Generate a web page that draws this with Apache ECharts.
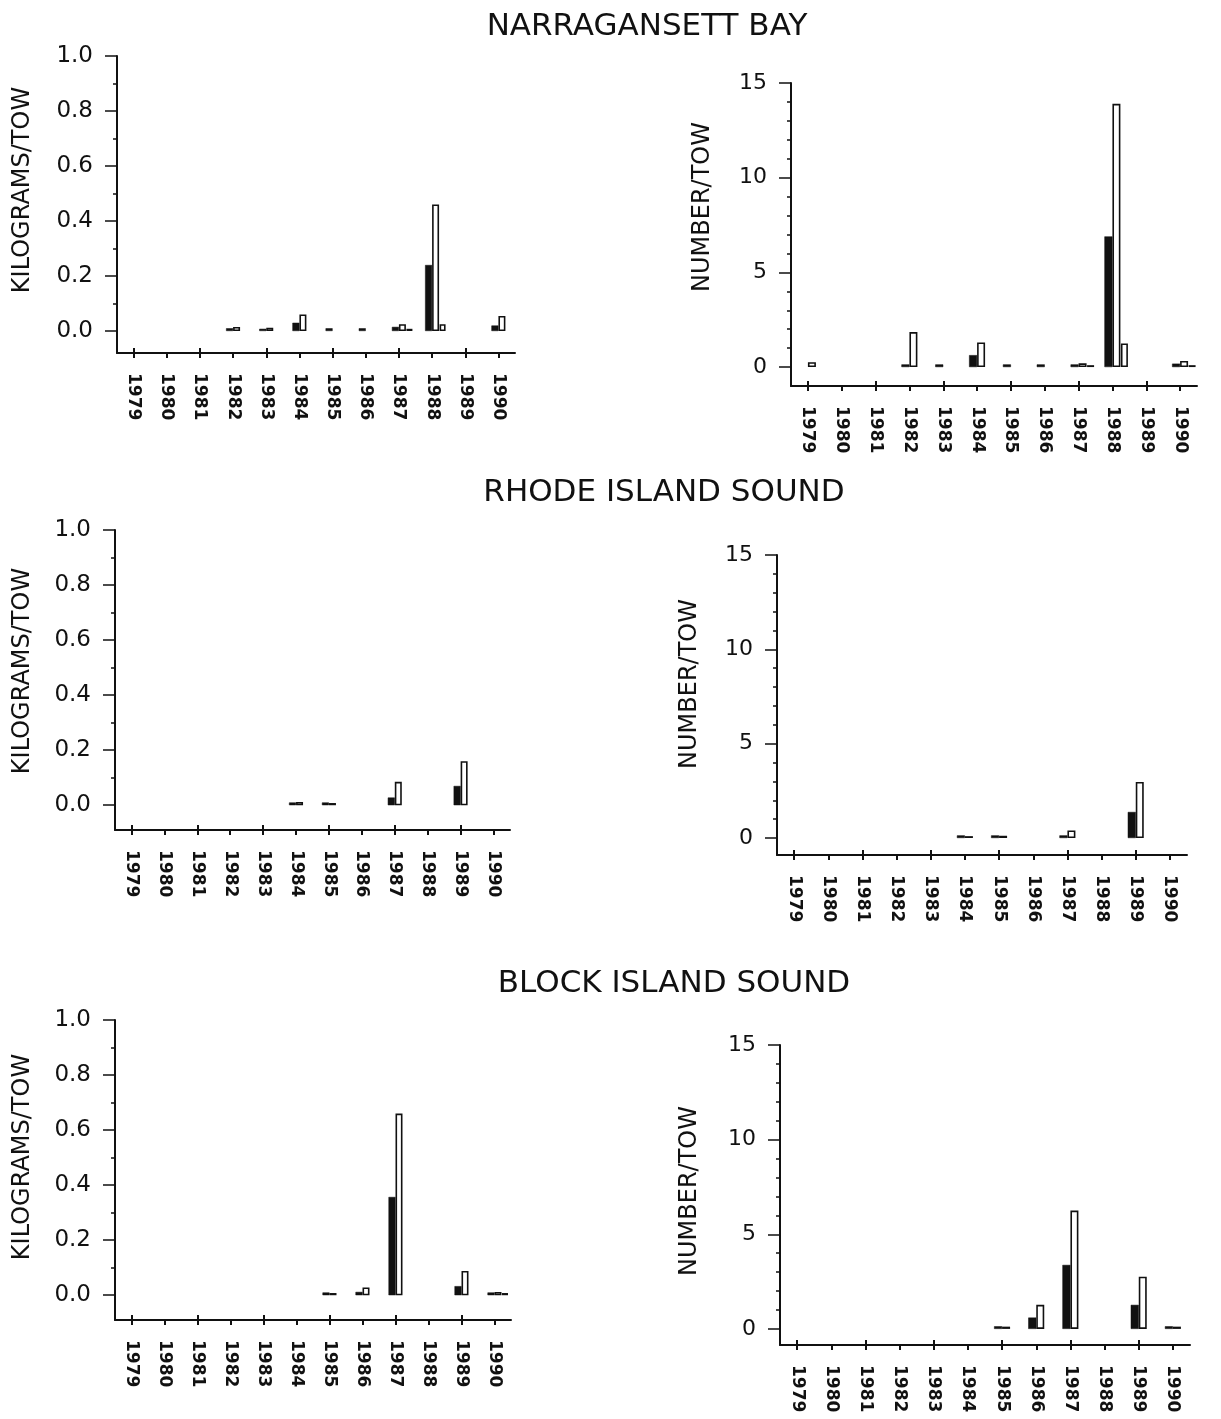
<!DOCTYPE html>
<html>
<head>
<meta charset="utf-8">
<script src="https://cdn.jsdelivr.net/npm/echarts@6/dist/echarts.min.js"></script>
<style>
html,body{margin:0;padding:0;background:#fff;}
#chart{width:1221px;height:1419px;}
</style>
</head>
<body>
<div id="chart"></div>
<script>
// ---------- data ----------
const years = ['1979','1980','1981','1982','1983','1984','1985','1986','1987','1988','1989','1990'];
const kgTicks = [0, 0.2, 0.4, 0.6, 0.8, 1.0];
const kgMinor = [0.1, 0.3, 0.5, 0.7, 0.9];
const numTicks = [0, 5, 10, 15];
const numMinor = [1, 2, 3, 4, 6, 7, 8, 9, 11, 12, 13, 14];

// Narragansett Bay
const nbKgBlack  = [null, null, null, 0.01, 0.008, 0.03, 0.01, 0.01, 0.015, 0.24, null, 0.02];
const nbKgWhite  = [null, null, null, 0.015, 0.012, 0.06, null, null, 0.025, 0.46, null, 0.055];
const nbKgThird  = [null, null, null, null, null, null, null, null, 0.008, 0.025, null, null];
const nbNumBlack = [null, null, null, 0.14, 0.14, 0.63, 0.14, 0.14, 0.14, 6.9, null, 0.18];
const nbNumWhite = [0.26, null, null, 1.85, null, 1.3, null, null, 0.2, 13.9, null, 0.32];
const nbNumThird = [null, null, null, null, null, null, null, null, 0.1, 1.25, null, 0.1];
// Rhode Island Sound
const riKgBlack  = [null, null, null, null, null, 0.01, 0.01, null, 0.028, null, 0.07, null];
const riKgWhite  = [null, null, null, null, null, 0.012, 0.008, null, 0.085, null, 0.16, null];
const riKgThird  = [null, null, null, null, null, null, null, null, null, null, null, null];
const riNumBlack = [null, null, null, null, null, 0.14, 0.14, null, 0.14, null, 1.38, null];
const riNumWhite = [null, null, null, null, null, 0.1, 0.12, null, 0.4, null, 2.97, null];
const riNumThird = [null, null, null, null, null, null, null, null, null, null, null, null];
// Block Island Sound
const biKgBlack  = [null, null, null, null, null, null, 0.01, 0.012, 0.357, null, 0.033, 0.01];
const biKgWhite  = [null, null, null, null, null, null, 0.008, 0.028, 0.66, null, 0.088, 0.012];
const biKgThird  = [null, null, null, null, null, null, null, null, null, null, null, 0.008];
const biNumBlack = [null, null, null, null, null, null, 0.14, 0.6, 3.38, null, 1.27, 0.14];
const biNumWhite = [null, null, null, null, null, null, 0.12, 1.27, 6.25, null, 2.76, 0.12];
const biNumThird = [null, null, null, null, null, null, null, null, null, null, null, null];

const titles = ['NARRAGANSETT BAY', 'RHODE ISLAND SOUND', 'BLOCK ISLAND SOUND'];
const kgName = 'KILOGRAMS/TOW';
const numName = 'NUMBER/TOW';

// ---------- layout ----------
const panels = [
  {left:117, top:56,   width:398, height:297, min:-0.08, max:1,  kind:'kg',  d:[nbKgBlack, nbKgWhite, nbKgThird],    nameX:23,  nameY:190},
  {left:791, top:83,   width:406, height:303, min:-1,    max:15, kind:'num', d:[nbNumBlack, nbNumWhite, nbNumThird], nameX:703, nameY:207},
  {left:115, top:530,  width:395, height:300, min:-0.09, max:1,  kind:'kg',  d:[riKgBlack, riKgWhite, riKgThird],    nameX:23,  nameY:671},
  {left:777, top:555,  width:410, height:300, min:-0.9,  max:15, kind:'num', d:[riNumBlack, riNumWhite, riNumThird], nameX:690, nameY:684},
  {left:115, top:1020, width:396, height:300, min:-0.09, max:1,  kind:'kg',  d:[biKgBlack, biKgWhite, biKgThird],    nameX:23,  nameY:1157},
  {left:780, top:1045, width:410, height:300, min:-0.85, max:15, kind:'num', d:[biNumBlack, biNumWhite, biNumThird], nameX:690, nameY:1191}
];
const titlePos = [{x:642, y:6}, {x:659, y:472}, {x:669, y:963}];

const INK = '#111';
const grid = [], xAxis = [], yAxis = [], series = [], graphic = [];

panels.forEach((p, i) => {
  grid.push({left:p.left, top:p.top, width:p.width, height:p.height});
  const isKg = p.kind === 'kg';
  const bw = isKg ? 7 : 8;
  // main x axis
  xAxis.push({
    type:'category', gridIndex:i, data:years, position:'bottom',
    axisLine:{show:true, onZero:false, lineStyle:{color:INK, width:2}},
    axisTick:{show:true, alignWithLabel:true, length:5, lineStyle:{color:INK, width:2}},
    axisLabel:{rotate:-90, margin:20, color:INK, fontFamily:'DejaVu Sans', fontWeight:'bold', fontSize:17},
    splitLine:{show:false}
  });
  // overlay x axis (inner ticks + third bar group)
  xAxis.push({
    type:'category', gridIndex:i, data:years, position:'bottom',
    axisLine:{show:false, onZero:false},
    axisTick:{show:true, inside:true, alignWithLabel:true, length:5, lineStyle:{color:INK, width:2}},
    axisLabel:{show:false}, splitLine:{show:false}
  });
  // main y axis
  yAxis.push({
    type:'value', gridIndex:i, min:p.min, max:p.max,
    axisLine:{show:true, lineStyle:{color:INK, width:2}},
    axisTick:{show:true, length:12, lineStyle:{color:INK, width:1.5}, customValues: isKg ? kgTicks : numTicks},
    axisLabel:{color:INK, fontFamily:'DejaVu Sans', fontSize: isKg ? 23 : 22, margin:24,
      customValues: isKg ? kgTicks : numTicks,
      formatter: v => isKg ? Number(v).toFixed(1) : String(Math.round(v))},
    splitLine:{show:false}
  });
  // minor tick y axis
  yAxis.push({
    type:'value', gridIndex:i, min:p.min, max:p.max, position:'left',
    axisLine:{show:false},
    axisTick:{show:true, length:4, lineStyle:{color:INK, width:1.5}, customValues: isKg ? kgMinor : numMinor},
    axisLabel:{show:false}, splitLine:{show:false}
  });
  const xa = i * 2, ya = i * 2;
  series.push({
    type:'bar', xAxisIndex:xa, yAxisIndex:ya, data:p.d[0], barWidth:bw, barGap:'0%',
    itemStyle:{color:INK, borderColor:INK, borderWidth:0.5}, silent:true
  });
  series.push({
    type:'bar', xAxisIndex:xa, yAxisIndex:ya, data:p.d[1], barWidth:bw, barGap:'0%',
    itemStyle:{color:'#fff', borderColor:INK, borderWidth:1.6}, silent:true
  });
  // spacer slot so the third bar sits right of the pair
  series.push({
    type:'bar', xAxisIndex:xa + 1, yAxisIndex:ya, data:years.map(() => null), barWidth:bw, barGap:'200%',
    itemStyle:{color:'transparent'}, silent:true
  });
  series.push({
    type:'bar', xAxisIndex:xa + 1, yAxisIndex:ya, data:p.d[2], barWidth:bw - 1, barGap:'200%',
    itemStyle:{color:'#fff', borderColor:INK, borderWidth:1.6}, silent:true
  });
  graphic.push({
    type:'text', x:p.nameX, y:p.nameY, rotation:Math.PI / 2,
    style:{text: isKg ? kgName : numName, fill:INK, font:'24px "DejaVu Sans"', textAlign:'center', textVerticalAlign:'middle'}
  });
});

const title = titles.map((t, i) => ({
  text:t, left:titlePos[i].x, top:titlePos[i].y, textAlign:'center',
  textStyle:{color:INK, fontFamily:'DejaVu Sans', fontWeight:'normal', fontSize:31}
}));

const chart = echarts.init(document.getElementById('chart'), null, {renderer:'canvas'});
chart.setOption({
  backgroundColor:'#fff',
  animation:false,
  title, grid, xAxis, yAxis, series, graphic
});
</script>
</body>
</html>
